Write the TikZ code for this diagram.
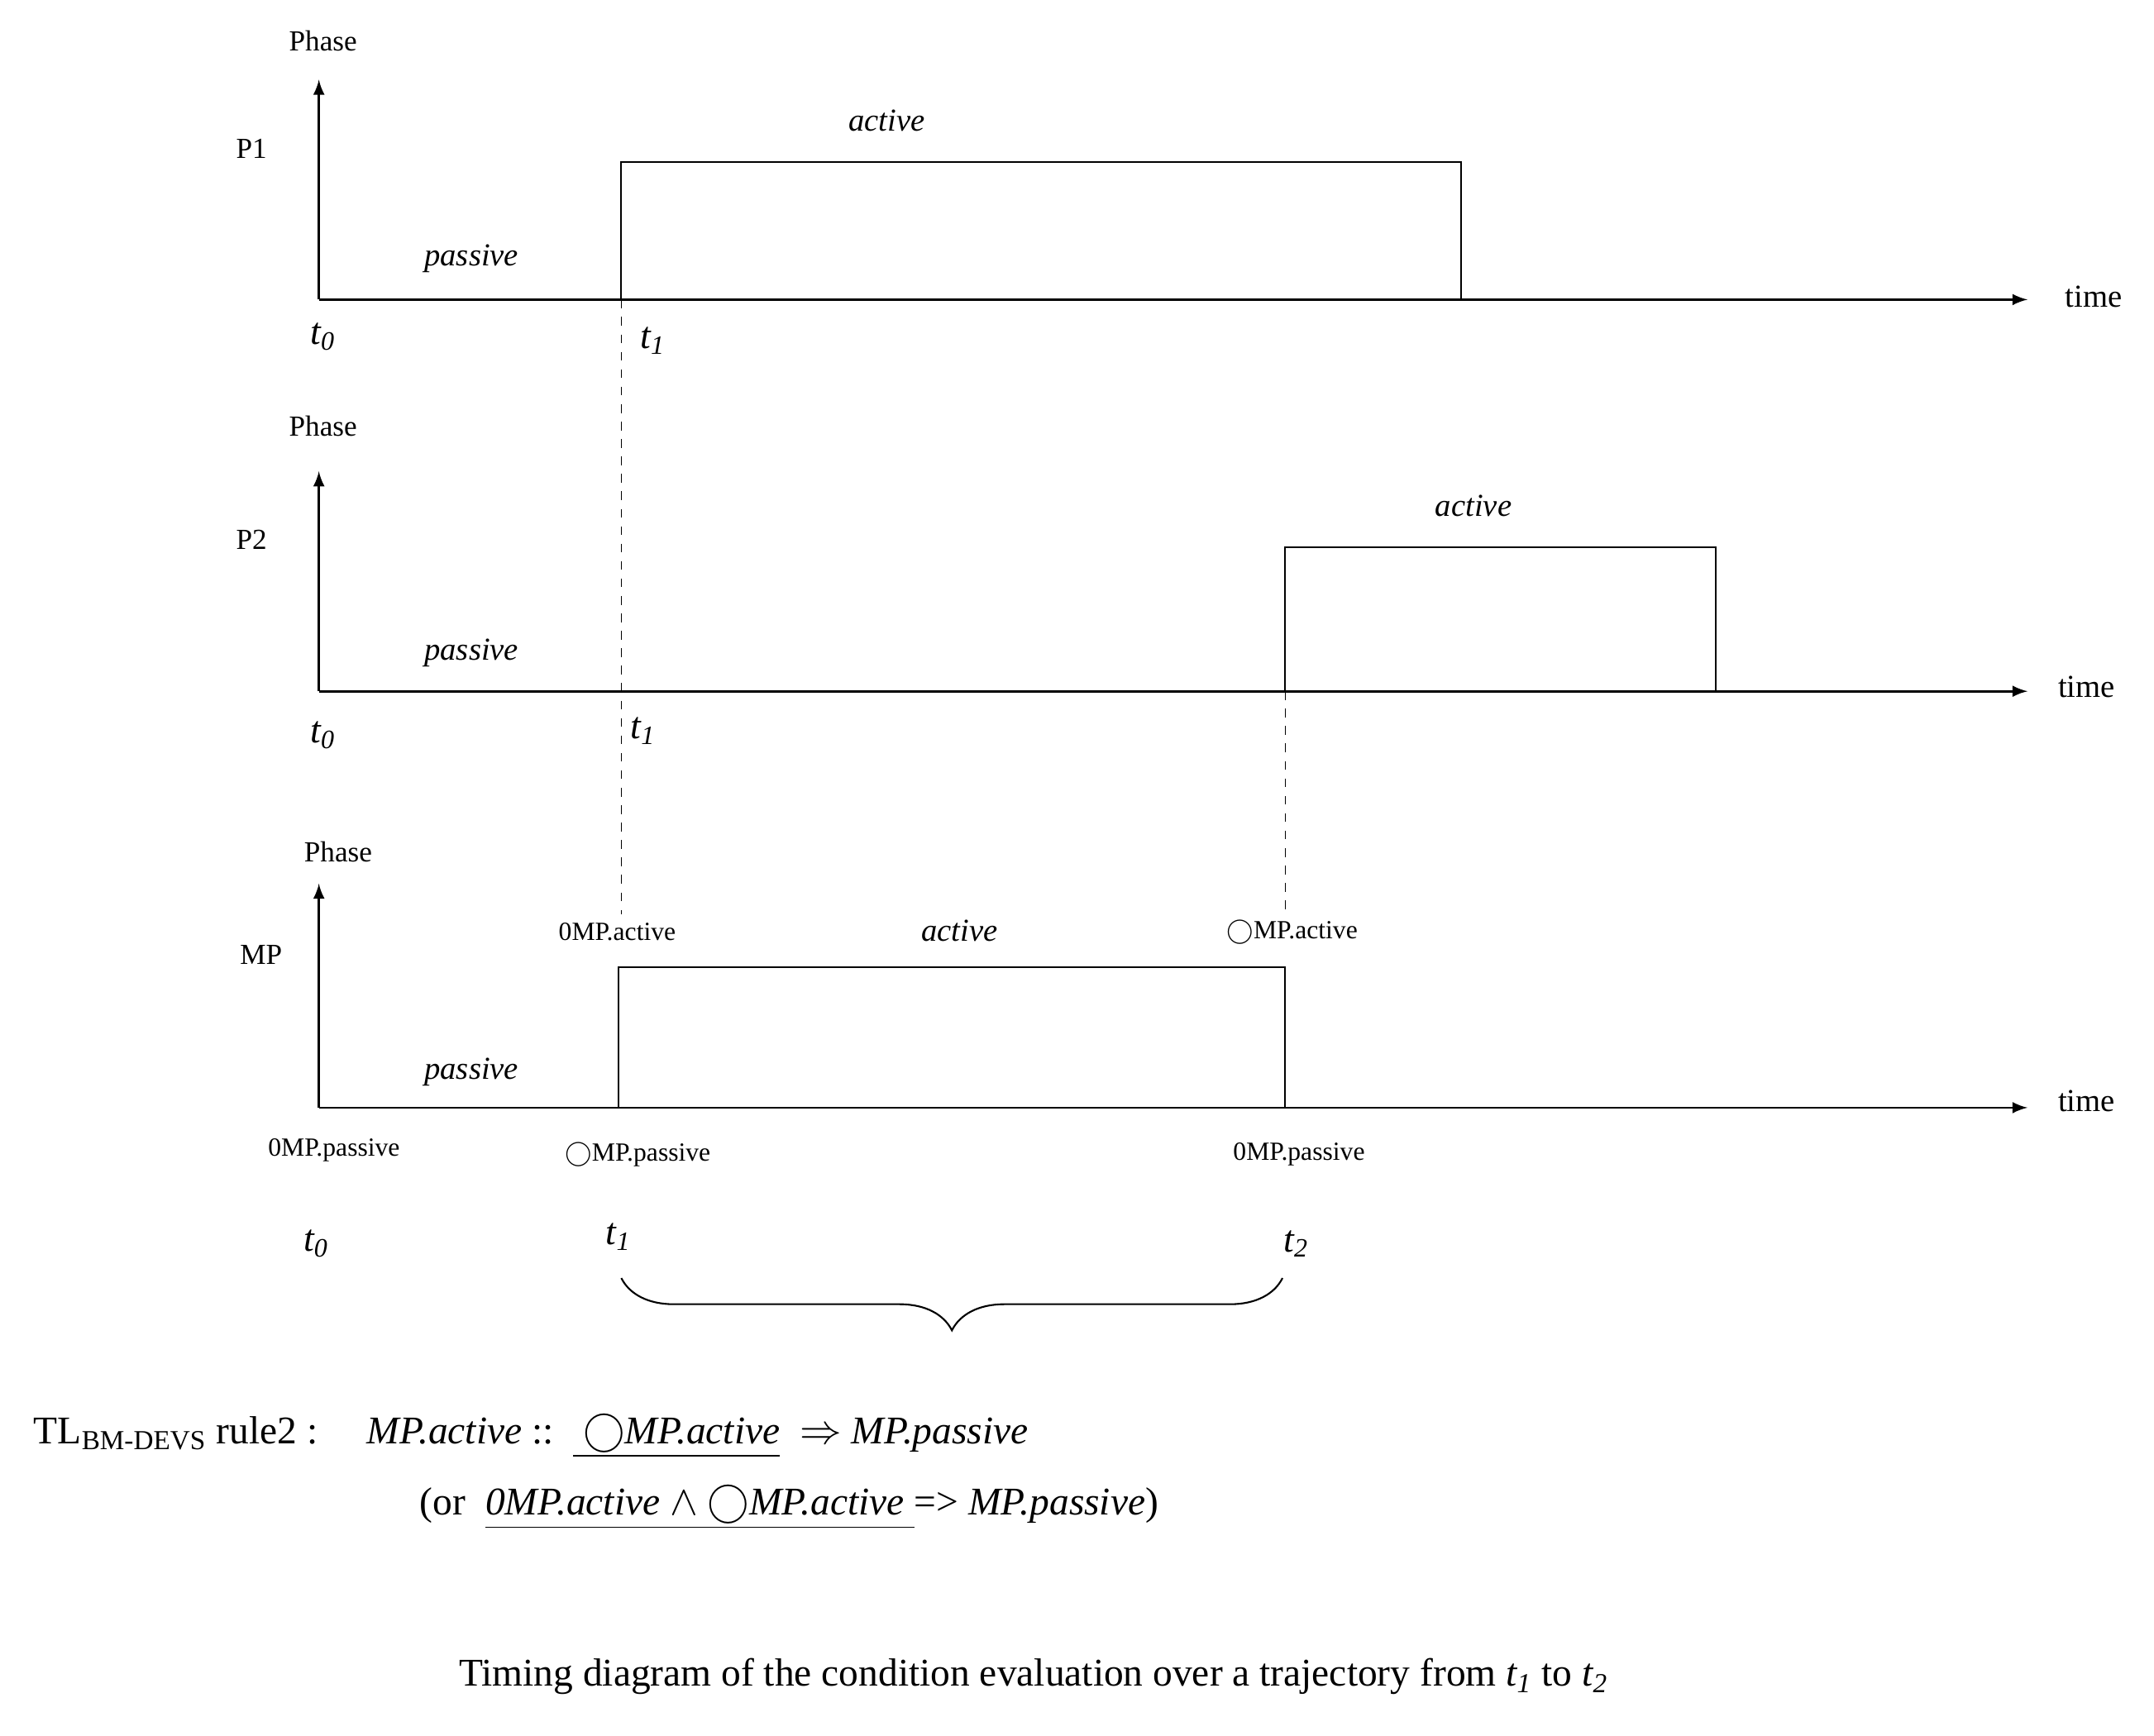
\documentclass[tikz,border=0pt]{standalone}
\usepackage{fontspec}
\setmainfont{Liberation Serif}
\usetikzlibrary{arrows, positioning, decorations.pathreplacing}
\tikzstyle{axis} = [draw, -latex, line width=0.8pt]
\tikzstyle{pulse} = [draw, line width=0.6pt]
\tikzstyle{guide} = [draw, dashed, line width=0.4pt]
\tikzstyle{lbl} = [font=\fontsize{10}{12}\selectfont, inner sep=1pt]
\tikzstyle{state} = [font=\fontsize{11}{13}\selectfont\itshape, inner sep=1pt]
\tikzstyle{evt} = [font=\fontsize{9}{11}\selectfont, inner sep=1pt]
\tikzstyle{tick} = [font=\fontsize{13}{15}\selectfont\itshape, inner sep=1pt]
\tikzstyle{formula} = [font=\fontsize{13.5}{16}\selectfont, inner sep=1pt, anchor=west]
\newcommand{\nxt}{\ensuremath{\bigcirc}}

\begin{document}
\begin{tikzpicture}[x=0.1662mm, y=-0.1662mm]
  \useasboundingbox (0,0) rectangle (1567,1263);
  % P1
  \coordinate (o1) at (232,218);
  \coordinate (y1) at (232,58);
  \coordinate (x1) at (1475,218);
  \path [axis] (o1) -- (y1);
  \path [axis] (o1) -- (x1);
  \path [pulse] (452,218) -- (452,118) -- (1063,118) -- (1063,218);
  \node[lbl] (phase1) at (235,30) {Phase};
  \node[lbl] (name1) at (183,108) {P1};
  \node[lbl, font=\fontsize{11}{13}\selectfont] (time1) at (1523,216) {time};
  \node[state] (act1) at (645,88) {active};
  \node[state] (pas1) at (343,188) {passive};
  \node[tick] (t01) at (235,245) {t\textsubscript{0}};
  \node[tick] (t11) at (475,248) {t\textsubscript{1}};
  % P2
  \coordinate (o2) at (232,503);
  \coordinate (y2) at (232,343);
  \coordinate (x2) at (1475,503);
  \path [axis] (o2) -- (y2);
  \path [axis] (o2) -- (x2);
  \path [pulse] (935,503) -- (935,398) -- (1248,398) -- (1248,503);
  \node[lbl] (phase2) at (235,310) {Phase};
  \node[lbl] (name2) at (183,393) {P2};
  \node[lbl, font=\fontsize{11}{13}\selectfont] (time2) at (1518,500) {time};
  \node[state] (act2) at (1072,368) {active};
  \node[state] (pas2) at (343,475) {passive};
  \node[tick] (t02) at (235,535) {t\textsubscript{0}};
  \node[tick] (t12) at (468,532) {t\textsubscript{1}};
  % MP
  \coordinate (o3) at (232,806);
  \coordinate (y3) at (232,643);
  \coordinate (x3) at (1475,806);
  \path [axis] (o3) -- (y3);
  \path [axis] (o3) -- (x3);
  \path [pulse] (450,806) -- (450,704) -- (935,704) -- (935,806);
  \node[lbl] (phase3) at (246,620) {Phase};
  \node[lbl] (name3) at (190,695) {MP};
  \node[lbl, font=\fontsize{11}{13}\selectfont] (time3) at (1518,801) {time};
  \node[state] (act3) at (698,677) {active};
  \node[state] (pas3) at (343,780) {passive};
  \node[evt] (ma1) at (449,678) {0MP.active};
  \node[evt] (ma2) at (940,678) {\nxt MP.active};
  \node[evt] (mp0) at (243,837) {0MP.passive};
  \node[evt] (mp1) at (464,840) {\nxt MP.passive};
  \node[evt] (mp2) at (945,840) {0MP.passive};
  \node[tick] (t03) at (230,905) {t\textsubscript{0}};
  \node[tick] (t13) at (450,900) {t\textsubscript{1}};
  \node[tick] (t23) at (943,905) {t\textsubscript{2}};
  % guides
  \coordinate (g1) at (452,665);
  \coordinate (g2) at (935,665);
  \path [guide] (452,218) -- (g1);
  \path [guide] (935,503) -- (g2);
  \coordinate (b1) at (452,930);
  \coordinate (b2) at (933,930);
  \draw [line width=0.6pt, decorate, decoration={brace, mirror, amplitude=18pt}] (b1) -- (b2);
  % rule
  \node[formula] (rule) at (22,1045) {TL\textsubscript{BM-DEVS} rule2 :\quad\
    \textit{MP.active} ::\ \ \underline{\ \nxt\textit{MP.active}}\ \ $\Rightarrow$ \textit{MP.passive}};
  \node[formula] (rule2) at (303,1097) {(or\ \ \underline{\textit{0MP.active} $\wedge$ \nxt\textit{MP.active}\ }=> \textit{MP.passive})};
  \node[formula, anchor=center] (caption) at (752,1220) {Timing diagram of the condition evaluation over a trajectory from \textit{t\textsubscript{1}} to \textit{t\textsubscript{2}}};
\end{tikzpicture}
\end{document}
